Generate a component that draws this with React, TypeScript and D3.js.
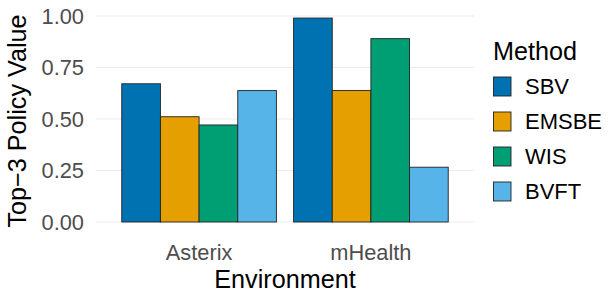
import * as d3 from 'd3'

const environments = ['Asterix', 'mHealth']
const methods = ['SBV', 'EMSBE', 'WIS', 'BVFT']
const asterixValues = [0.671, 0.511, 0.471, 0.638]
const mhealthValues = [0.99, 0.638, 0.89, 0.266]
const yTicks = [0, 0.25, 0.5, 0.75, 1.0]
const methodColors = ['#0072B2', '#E69F00', '#009E73', '#56B4E9']

const W = 609
const H = 293
const panel = { left: 96, right: 474, top: 6, bottom: 222 }
const font = 'Liberation Sans, Arial, Helvetica, sans-serif'

export default function App() {
  const valuesByEnv = [asterixValues, mhealthValues]

  const y = d3.scaleLinear().domain([0, 1]).range([panel.bottom, 16])
  // ggplot discrete expansion: 0.6 units each side
  const x = d3.scaleLinear().domain([0.4, 2.6]).range([panel.left, panel.right])
  const unit = x(1) - x(0)
  const groupW = 0.9 * unit
  const barW = groupW / methods.length

  const color = d3.scaleOrdinal<string, string>().domain(methods).range(methodColors)

  return (
    <svg width={W} height={H} style={{ position: 'absolute', left: 0, top: 0, background: '#fff' }}>
      {yTicks.map((t) => (
        <line key={t} x1={panel.left} x2={panel.right} y1={y(t)} y2={y(t)} stroke="#EBEBEB" strokeWidth={1.1} />
      ))}
      {environments.map((env, i) => {
        const cx = x(i + 1)
        return (
          <g key={env}>
            {methods.map((m, j) => {
              const v = valuesByEnv[i][j]
              const bx = cx - groupW / 2 + j * barW
              return (
                <rect
                  key={m}
                  x={bx}
                  y={y(v)}
                  width={barW}
                  height={y(0) - y(v)}
                  fill={color(m)}
                  stroke="#222"
                  strokeWidth={0.9}
                />
              )
            })}
            <text x={cx} y={259.5} textAnchor="middle" fontFamily={font} fontSize={21.8} fill="#4D4D4D">
              {env}
            </text>
          </g>
        )
      })}
      {yTicks.map((t) => (
        <text key={t} x={84} y={y(t)} dy="0.36em" textAnchor="end" fontFamily={font} fontSize={21.8} fill="#4D4D4D">
          {d3.format('.2f')(t)}
        </text>
      ))}
      <text x={285} y={288} textAnchor="middle" fontFamily={font} fontSize={25.2} fill="#000">
        Environment
      </text>
      <text
        transform={`translate(26,${(y(0) + y(1)) / 2 + 2}) rotate(-90)`}
        textAnchor="middle"
        fontFamily={font}
        fontSize={25.2}
        fill="#000"
      >
        Top−3 Policy Value
      </text>
      <text x={493} y={60} fontFamily={font} fontSize={25.2} fill="#000">
        Method
      </text>
      {methods.map((m, j) => {
        const cy = 86.5 + j * 35
        return (
          <g key={m}>
            <rect x={493.5} y={cy - 9.5} width={17.5} height={19} fill={color(m)} stroke="#222" strokeWidth={0.9} />
            <text x={525} y={cy} dy="0.36em" fontFamily={font} fontSize={22} fill="#000">
              {m}
            </text>
          </g>
        )
      })}
    </svg>
  )
}
